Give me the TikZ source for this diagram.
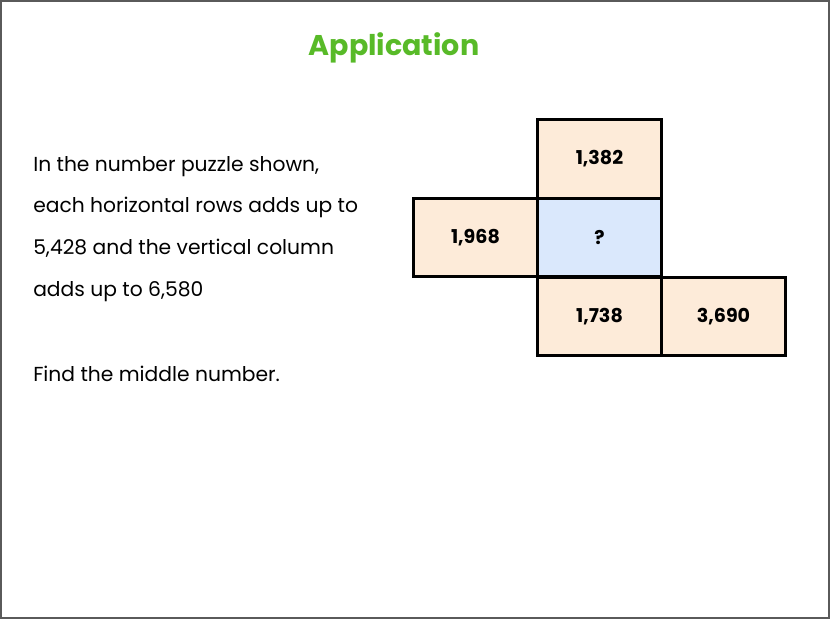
\documentclass[tikz,border=0pt]{standalone}
\usepackage{fontspec}
\setmainfont{Poppins}
\usepackage{xcolor}
\usetikzlibrary{positioning}
\definecolor{titlegreen}{RGB}{88,186,40}
\definecolor{cellbeige}{RGB}{253,235,217}
\definecolor{cellblue}{RGB}{218,232,252}
\tikzset{
  cell/.style={draw=black, line width=2.2pt, fill=cellbeige, minimum width=93.5pt, minimum height=59pt, inner sep=0pt, font=\fontsize{14.3}{16}\selectfont\bfseries},
  qcell/.style={cell, fill=cellblue},
  line/.style={anchor=base west, inner sep=0pt, font=\fontsize{15.2}{18}\selectfont}
}

\begin{document}
\begin{tikzpicture}[x=0.75pt,y=0.75pt,yscale=-1,xscale=1]
\useasboundingbox (0,0) rectangle (830,619);
%Frame
\draw [draw={rgb, 255:red, 90; green, 90; blue, 90 }, line width=0.9pt] (1,1) rectangle (829,618);

% Title
\node (title) at (394,55) [anchor=base, inner sep=0pt, text=titlegreen, font=\fontsize{21.4}{25}\selectfont\bfseries] {Application};

% Text Node
\node (l1) at (33,171.5) [line] {In the number puzzle shown,};
\node (l2) at (33,212.5) [line] {each horizontal rows adds up to};
\node (l3) at (33,254) [line] {5,428 and the vertical column};
\node (l4) at (33,296) [line] {adds up to 6,580};
\node (l5) at (33,381) [line] {Find the middle number.};

%Puzzle cells
\node (top) at (599.5,159) [cell] {1,382};
\node (mid) at (599.5,237.5) [qcell] {?};
\node (left) at (475.5,237.5) [cell] {1,968};
\node (bot) at (599.5,316.5) [cell] {1,738};
\node (right) at (723.5,316.5) [cell] {3,690};

\end{tikzpicture}
\end{document}
